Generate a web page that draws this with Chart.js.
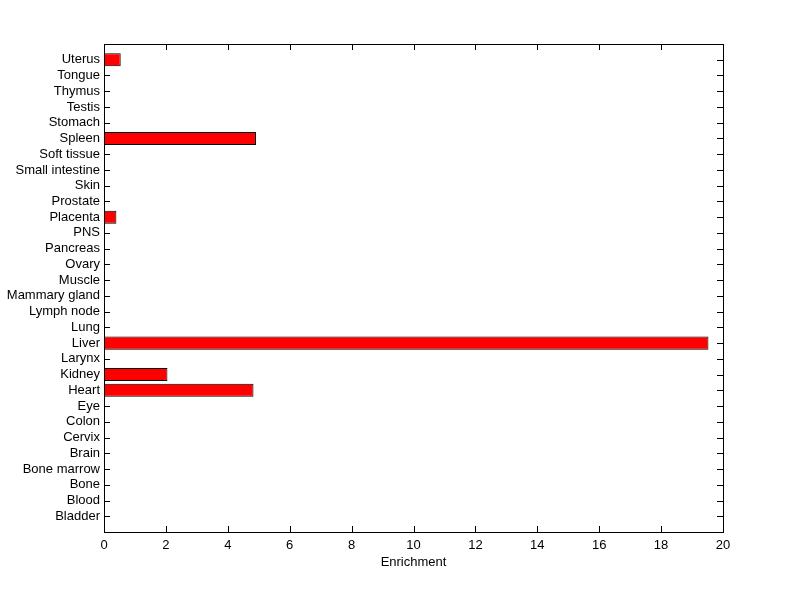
<!DOCTYPE html>
<html>
<head>
<meta charset="utf-8">
<script src="https://cdn.jsdelivr.net/npm/chart.js@4"></script>
<style>
  html, body { margin: 0; padding: 0; background: #ffffff; }
  #c { display: block; }
</style>
</head>
<body>
<canvas id="c" width="800" height="599"></canvas>
<script>
// Categories listed bottom to top
const categories = ["Bladder", "Blood", "Bone", "Bone marrow", "Brain", "Cervix", "Colon", "Eye",
  "Heart", "Kidney", "Larynx", "Liver", "Lung", "Lymph node", "Mammary gland", "Muscle", "Ovary",
  "Pancreas", "PNS", "Placenta", "Prostate", "Skin", "Small intestine", "Soft tissue", "Spleen",
  "Stomach", "Testis", "Thymus", "Tongue", "Uterus"];
const enrichment = [0, 0, 0, 0, 0, 0, 0, 0,
  4.83, 2.05, 0, 19.53, 0, 0, 0, 0, 0,
  0, 0, 0.40, 0, 0, 0, 0, 4.91,
  0, 0, 0, 0, 0.54];
const xTicks = [0, 2, 4, 6, 8, 10, 12, 14, 16, 18, 20];
const xTitle = "Enrichment";

const FONT = { family: "'Liberation Sans', Arial, sans-serif", size: 13 };

const points = categories.map((c, i) => ({ x: enrichment[i], y: i + 1 }));

const boxPlugin = {
  id: 'box',
  beforeDatasetsDraw(chart) {
    const ctx = chart.ctx;
    const a = chart.chartArea;
    const xs = chart.scales.x, ys = chart.scales.y;
    ctx.save();
    ctx.strokeStyle = '#000';
    ctx.lineWidth = 1;
    ctx.beginPath();
    const tl = 6;
    categories.forEach((c, i) => {
      const y = Math.round(ys.getPixelForValue(i + 1)) + 0.5;
      ctx.moveTo(a.left, y); ctx.lineTo(a.left + tl, y);
      ctx.moveTo(a.right - tl, y); ctx.lineTo(a.right, y);
    });
    xTicks.forEach(v => {
      const x = Math.round(xs.getPixelForValue(v)) + 0.5;
      ctx.moveTo(x, a.bottom); ctx.lineTo(x, a.bottom - tl);
      ctx.moveTo(x, a.top); ctx.lineTo(x, a.top + tl);
    });
    ctx.stroke();
    ctx.restore();
  },
  afterDraw(chart) {
    const ctx = chart.ctx;
    const a = chart.chartArea;
    ctx.save();
    ctx.strokeStyle = '#000';
    ctx.lineWidth = 1;
    ctx.strokeRect(Math.round(a.left) + 0.5, Math.round(a.top) + 0.5,
                   Math.round(a.right - a.left), Math.round(a.bottom - a.top));
    ctx.restore();
  }
};

new Chart(document.getElementById('c'), {
  type: 'bar',
  data: {
    datasets: [{
      data: points,
      backgroundColor: '#ff0000',
      borderColor: '#000000',
      borderWidth: 1,
      borderSkipped: false,
      barPercentage: 0.83,
      categoryPercentage: 1.0
    }]
  },
  options: {
    indexAxis: 'y',
    responsive: false,
    animation: false,
    layout: { padding: { left: 0, right: 77, top: 44, bottom: 0 } },
    plugins: { legend: { display: false }, tooltip: { enabled: false } },
    scales: {
      y: {
        type: 'linear',
        offset: false,
        min: 0, max: 31,
        afterBuildTicks(scale) {
          scale.ticks = categories.map((c, i) => ({ value: i + 1 }));
        },
        afterFit(scale) { scale.width = 104; },
        grid: { display: false, drawTicks: false, offset: false },
        border: { display: false },
        ticks: {
          color: '#000',
          font: FONT,
          padding: 4,
          autoSkip: false,
          callback: (v) => categories[v - 1] || ''
        }
      },
      x: {
        type: 'linear',
        min: 0, max: 20,
        afterBuildTicks(scale) {
          scale.ticks = xTicks.map(v => ({ value: v }));
        },
        afterFit(scale) { scale.height = 67; },
        grid: { display: false, drawTicks: false },
        border: { display: false },
        ticks: { color: '#000', font: FONT, padding: 6, maxRotation: 0 },
        title: {
          display: true,
          text: xTitle,
          color: '#000',
          font: FONT,
          padding: { top: 0, bottom: 29 }
        }
      }
    }
  },
  plugins: [boxPlugin]
});
</script>
</body>
</html>
